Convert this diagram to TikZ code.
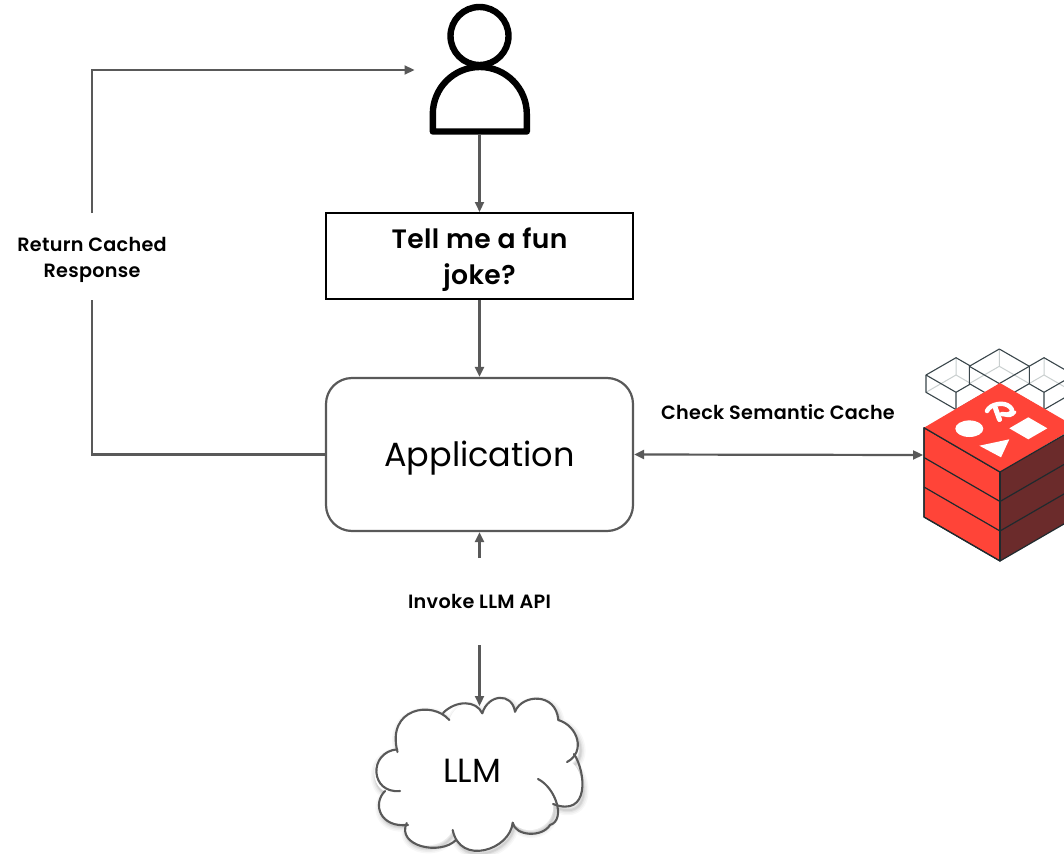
\documentclass[tikz,border=0pt]{standalone}
\usepackage{fontspec}
\setmainfont{Poppins}
\newfontfamily\semib[LetterSpace=1.5]{Poppins SemiBold}
\usetikzlibrary{arrows.meta}
\definecolor{linegray}{HTML}{595959}
\definecolor{redfront}{HTML}{FF4438}
\definecolor{redside}{HTML}{6B2B2B}
\definecolor{cubeline}{HTML}{1F2A2E}
\definecolor{wire}{HTML}{3A464B}
\definecolor{wirelight}{HTML}{C9CFCF}
\tikzset{
  x=1pt,y=-1pt,
  conn/.style={draw=linegray,line width=2.2pt},
  tip/.style={-{Triangle[length=10pt,width=9pt,fill=linegray]}},
  tips/.style={{Triangle[length=10pt,width=9pt,fill=linegray]}-{Triangle[length=10pt,width=9pt,fill=linegray]}},
  labeltext/.style={font=\semib\fontsize{19.2}{26}\selectfont,align=center,inner sep=0pt,text=black},
  promptbox/.style={draw=black,line width=2pt,fill=white,minimum width=307pt,minimum height=86pt,align=center,inner sep=0pt},
  appbox/.style={draw=linegray,line width=2.2pt,rounded corners=26pt,minimum width=307pt,minimum height=153pt,inner sep=0pt},
  anchorbox/.style={inner sep=0pt,outer sep=0pt,minimum width=#1},
  person/.style={draw=black,line width=6.4pt,line join=round,fill=white},
  wirecube/.style={draw=wire,line width=1.1pt,line join=round},
  cubeedge/.style={draw=cubeline,line width=1.2pt,line join=round},
  cloudline/.style={draw=linegray,line width=2.1pt,line cap=round}
}
\newcommand{\wirebox}[2]{%
  \fill[white] (#1,#2) -- ++(-30,17.3) -- ++(0,17.3) -- ++(30,17.3) -- ++(30,-17.3) -- ++(0,-17.3) -- cycle;
  \draw[draw=wirelight,line width=1pt] (#1,#2) -- ++(0,17.3) (#1-30,#2+34.6) -- (#1,#2+17.3) -- (#1+30,#2+34.6);
  \draw[wirecube] (#1,#2) -- ++(-30,17.3) -- ++(0,17.3) -- ++(30,17.3) -- ++(30,-17.3) -- ++(0,-17.3) -- cycle;
  \draw[wirecube] (#1-30,#2+17.3) -- ++(30,17.3) -- ++(30,-17.3) (#1,#2+34.6) -- ++(0,17.3);
}
\newcommand{\cloudoutline}{
  (482.3,713.3) .. controls (488,694) and (512,692) .. (515,711.7)
  .. controls (522,694) and (556,692) .. (558.3,720)
  .. controls (578,726) and (586,752) .. (572,763)
  .. controls (586,772) and (590,820) .. (553,804)
  .. controls (556,824) and (530,840) .. (512.7,822.7)
  .. controls (510,850) and (460,866) .. (452.7,830)
  .. controls (440,856) and (396,846) .. (406.7,823)
  .. controls (380,828) and (372,804) .. (385,791)
  .. controls (370,786) and (368,752) .. (397.3,749.3)
  .. controls (386,708) and (432,700) .. (449.3,720)
  .. controls (456,700) and (476,700) .. (482.3,713.3) -- cycle
}
\begin{document}
\begin{tikzpicture}
\useasboundingbox (0,0) rectangle (1064,853);
\fill[white] (0,0) rectangle (1064,853);

% person
\draw[person] (432.8,131.5) -- (432.8,114) arc[start angle=180,end angle=360,x radius=47,y radius=47] -- (526.8,131.5) -- cycle;
\draw[person] (479.5,36) circle[radius=29];
\node[anchorbox=130pt,minimum height=128pt] (user) at (479.5,70) {};

% prompt and application
\node[promptbox] (prompt) at (479.5,256) {};
\node[font=\semib\fontsize{26.6}{36}\selectfont,align=center,inner sep=0pt] (prompttext) at (479.5,259.5) {Tell me a fun\\joke?};
\node[appbox] (app) at (479.5,454.5) {};
\node[font=\fontsize{33.5}{40}\selectfont,inner sep=0pt] (apptext) at (479.5,458) {Application};

% cache cube
\begin{scope}
\clip (880,340) rectangle (1064,853);
\wirebox{956}{357.7}
\wirebox{1044}{357.7}
\wirebox{999.3}{349}
\fill[redside] (1000,472) -- (1076,428) -- (1076,517) -- (1000,561) -- cycle;
\filldraw[fill=redfront,cubeedge] (924,427.7) -- (1000,472) -- (1000,561) -- (924,517) -- cycle;
\filldraw[fill=redfront,draw=none] (924,427.7) -- (1000,383) -- (1076,427) -- (1000,472) -- cycle;
\draw[cubeedge] (924,427.7) -- (1000,472) -- (1076,428);
\draw[cubeedge] (924,457.5) -- (1000,501.5) -- (1076,457.5);
\draw[cubeedge] (924,487) -- (1000,531) -- (1076,487);
\draw[cubeedge] (924,427.7) -- (924,517) -- (1000,561) -- (1076,517);
\draw[cubeedge] (1000,472) -- (1000,561);
\fill[white] (969.3,428.7) ellipse[x radius=14,y radius=8.3];
\fill[white] (1009.3,428.3) -- (1028.3,417.3) -- (1047.3,428.3) -- (1028.3,439.3) -- cycle;
\fill[white] (979.3,445.7) -- (1009.3,439.3) -- (1001,457.3) -- cycle;
\draw[white,line width=4.5pt,line cap=round] (987,411) .. controls (990,404) and (1004,401) .. (1010,407) .. controls (1016,413) and (1008,416) .. (1002,414);
\draw[white,line width=5pt,line cap=round] (995,407) -- (999.5,419.5);
\draw[white,line width=3pt,line cap=round] (1004,414) .. controls (1008,417) and (1012,416) .. (1015,412);
\end{scope}
\node[anchorbox=1pt,minimum height=90pt] (cache) at (923.5,455) {};

% cloud
\foreach \s/\o in {10/.03,7/.04,4/.05,2/.06}{
  \draw[black,opacity=\o,line width=\s pt,line join=round] [shift={(1.5,3)}] \cloudoutline;
}
\fill[white] \cloudoutline;
\begin{scope}[cloudline]
\draw (482.3,713.3) .. controls (488,694) and (512,692) .. (515,711.7);
\draw (515,711.7) .. controls (522,694) and (556,692) .. (558.3,720);
\draw (558.3,720) .. controls (578,726) and (586,752) .. (567,762);
\draw (574,754) .. controls (586,772) and (590,818) .. (553,804);
\draw (538,779) .. controls (556,788) and (566,820) .. (550,825) .. controls (542,838) and (515,836) .. (512.7,822.7);
\draw (512.7,822.7) .. controls (510,850) and (460,866) .. (452.7,830);
\draw (456,840) .. controls (440,856) and (396,846) .. (406.7,823);
\draw (408,825) .. controls (380,828) and (372,804) .. (385,791);
\draw (400,791) .. controls (370,794) and (368,752) .. (397.3,749.3);
\draw (397.5,752) .. controls (386,708) and (432,700) .. (449.3,720);
\draw (443,713) .. controls (456,700) and (476,700) .. (482.3,713.3);
\end{scope}
\node[font=\fontsize{33.5}{40}\selectfont,inner sep=0pt] (llm) at (472,771) {LLM};
\node[inner sep=0pt,outer sep=0pt,minimum width=1pt,minimum height=1pt] (cloudtop) at (479.5,706) {};

% labels
\node[labeltext] (ret) at (92,259.5) {Return Cached\\Response};
\node[labeltext] (chk) at (778,412) {Check Semantic Cache};
\node[labeltext] (inv) at (479.5,601.5) {Invoke LLM API};
\coordinate (retbottom) at (92,300);
\coordinate (rettop) at (92,213);
\coordinate (corner) at (92,70);
\coordinate (invtop) at (479.5,558);
\coordinate (invbottom) at (479.5,645);

% connectors
\draw[conn,tip] (user.south) -- (prompt.north);
\draw[conn,tip] (prompt.south) -- (app.north);
\draw[conn] (app.west) -| (retbottom);
\draw[conn,tip] (rettop) -- (corner) -- (user.west);
\draw[conn,tips] (app.east) -- (cache.west);
\draw[conn,tip] (invtop) -- (app.south);
\draw[conn,tip] (invbottom) -- (cloudtop.center);
\end{tikzpicture}
\end{document}
